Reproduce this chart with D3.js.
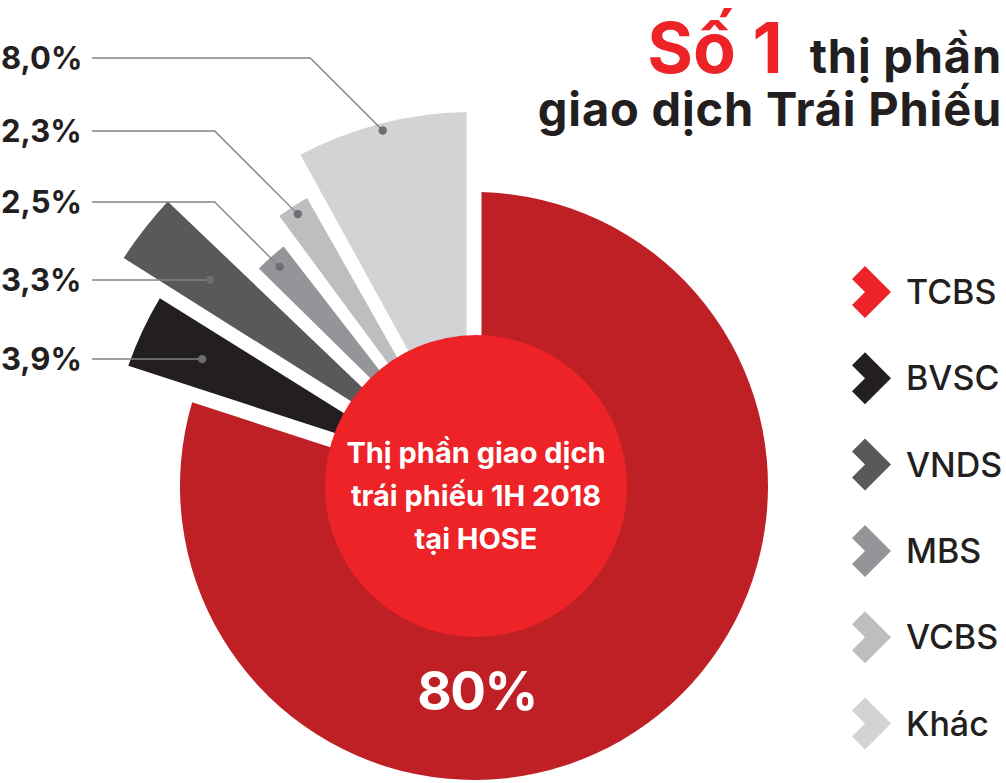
<!DOCTYPE html>
<html>
<head>
<meta charset="utf-8">
<script src="https://cdn.jsdelivr.net/npm/d3@7"></script>
<style>
  html, body { margin: 0; padding: 0; background: #fff; }
  svg { display: block; font-family: Inter, "Noto Sans", sans-serif; }
</style>
</head>
<body>
<svg id="chart" width="1006" height="783"></svg>
<script>
/*** DATA ***/
var companies = ["TCBS", "BVSC", "VNDS", "MBS", "VCBS", "Khác"];
var shares    = [80, 3.9, 3.3, 2.5, 2.3, 8.0];
var shareLabels = ["80%", "3,9%", "3,3%", "2,5%", "2,3%", "8,0%"];

/*** STYLE / LAYOUT ***/
var sliceColors  = ["#be2026", "#231f20", "#58595b", "#939598", "#bcbec0", "#d1d3d4"];
var legendColors = ["#ed2327", "#231f20", "#58595b", "#939598", "#bcbec0", "#d1d3d4"];
var outerRadii   = [294, 366, 418, 306, 333, 374];   // each wedge sticks out by its own amount
var dotRadii     = [0, 300, 335, 293, 324, 367];     // where the leader dot sits inside the wedge
var labelRows    = [0, 359, 280, 202, 131, 58];      // y of the percent labels on the left

var svg = d3.select('#chart');
var cx = 474, cy = 486;

var pie = d3.pie().sort(null).value(function(d) { return d; });
var arcs = pie(shares);

var arc = d3.arc()
    .innerRadius(60)
    .outerRadius(function(d) { return outerRadii[d.index]; })
    .padAngle(0.05)
    .padRadius(300);

var g = svg.append('g').attr('transform', 'translate(' + cx + ',' + cy + ')');

g.selectAll('path.slice')
    .data(arcs)
    .enter().append('path')
    .attr('class', 'slice')
    .attr('d', arc)
    .attr('fill', function(d) { return sliceColors[d.index]; });

// center disc
g.append('circle')
    .attr('cx', 2).attr('cy', 0)
    .attr('r', 151)
    .attr('fill', '#ed2327');

var centerLines = ["Thị phần giao dịch", "trái phiếu 1H 2018", "tại HOSE"];
g.append('text')
    .attr('text-anchor', 'middle')
    .attr('fill', '#fff')
    .attr('font-size', 29)
    .attr('font-weight', 700)
    .selectAll('tspan')
    .data(centerLines)
    .enter().append('tspan')
    .attr('x', 2)
    .attr('y', function(d, i) { return -23 + i * 43; })
    .text(function(d) { return d; });

// big TCBS label
g.append('text')
    .attr('x', 3).attr('y', 224)
    .attr('text-anchor', 'middle')
    .attr('fill', '#fff')
    .attr('font-size', 53)
    .attr('font-weight', 700)
    .attr('letter-spacing', -1.5)
    .text(shareLabels[0]);

// leader lines + percent labels for the small wedges
function midAngle(d) { return (d.startAngle + d.endAngle) / 2; }

arcs.slice(1).forEach(function(d) {
    var i = d.index,
        a = midAngle(d),
        dx = cx + dotRadii[i] * Math.sin(a),
        dy = cy - dotRadii[i] * Math.cos(a),
        ly = labelRows[i],
        elbow = dx - (dy - ly);

    svg.append('polyline')
        .attr('points', [[92, ly], [elbow, ly], [dx, dy]].map(function(p) { return p.join(','); }).join(' '))
        .attr('fill', 'none')
        .attr('stroke', '#808285')
        .attr('stroke-width', 1.3);

    svg.append('circle')
        .attr('cx', dx).attr('cy', dy)
        .attr('r', 4.2)
        .attr('fill', '#6d6e71');

    svg.append('text')
        .attr('x', 1).attr('y', ly + 11)
        .attr('fill', '#231f20')
        .attr('font-size', 31)
        .attr('font-weight', 700)
        .text(shareLabels[i]);
});

// title (one text block, two lines)
var title = svg.append('text')
    .attr('text-anchor', 'end')
    .attr('font-weight', 700)
    .attr('fill', '#231f20');

title.append('tspan')
    .attr('x', 1002).attr('y', 73)
    .attr('fill', '#ed2327')
    .attr('font-size', 70)
    .text('Số 1');

title.append('tspan')
    .attr('dx', 27)
    .attr('font-size', 47)
    .attr('letter-spacing', 0.8)
    .text('thị phần');

title.append('tspan')
    .attr('x', 1002).attr('y', 126)
    .attr('font-size', 47)
    .attr('letter-spacing', 0.8)
    .text('giao dịch Trái Phiếu');

// legend
var legend = svg.append('g');
var chevron = "M0,0 L-26,-26 L-39,-13 L-26,0 L-39,13 L-26,26 Z";

companies.forEach(function(name, i) {
    var y = 292 + i * 86.3;
    legend.append('path')
        .attr('d', chevron)
        .attr('transform', 'translate(891,' + y + ')')
        .attr('fill', legendColors[i]);
    legend.append('text')
        .attr('x', 906).attr('y', y + 12)
        .attr('fill', '#231f20')
        .attr('font-size', 34)
        .attr('font-weight', 500)
        .text(name);
});
</script>
</body>
</html>
